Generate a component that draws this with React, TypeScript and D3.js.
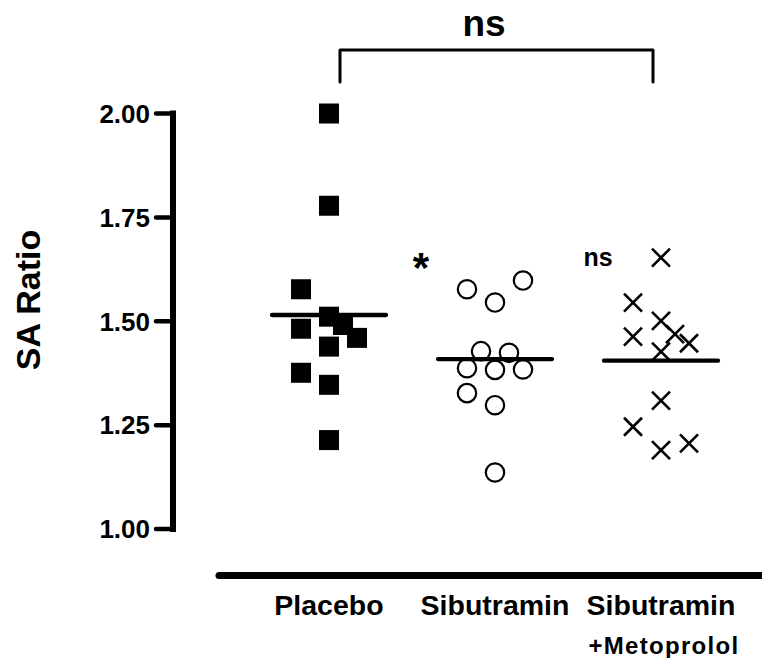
import React from "react";
import * as d3 from "d3";

const categories = ["Placebo", "Sibutramin", "Sibutramin+Metoprolol"];
const placeboValues = [2.0, 1.778, 1.577, 1.511, 1.491, 1.46, 1.482, 1.439, 1.376, 1.347, 1.214];
const placeboSlots = [0, 0, -2, 0, 1, 2, -2, 0, -2, 0, 0];
const sibutraminValues = [1.577, 1.598, 1.545, 1.428, 1.424, 1.387, 1.383, 1.384, 1.327, 1.298, 1.136];
const sibutraminSlots = [-2, 2, 0, -1, 1, -2, 0, 2, -2, 0, 0];
const comboValues = [1.653, 1.545, 1.501, 1.463, 1.469, 1.447, 1.427, 1.309, 1.246, 1.206, 1.19];
const comboSlots = [0, -2, 0, -2, 1, 2, 0, 0, -2, 2, 0];
const means = [1.515, 1.409, 1.405];
const yTicks = [1.0, 1.25, 1.5, 1.75, 2.0];

const W = 762;
const H = 658;
const FONT = "Arial, 'Liberation Sans', Helvetica, sans-serif";

export default function App() {
  const y = d3.scaleLinear().domain([1, 2]).range([529, 113.5]);
  const x = d3.scalePoint<string>().domain(categories).range([329, 661]);
  const slot = 14;
  const fmt = d3.format(".2f");
  const axisX = 173;

  const cx = (cat: string, s: number) => (x(cat) as number) + s * slot;

  return (
    <svg width={W} height={H} style={{ position: "absolute", left: 0, top: 0, background: "#fff" }} fontFamily={FONT}>
      {/* y axis */}
      <line x1={axisX} x2={axisX} y1={y(2)} y2={y(1)} stroke="#000" strokeWidth={6} strokeLinecap="square" />
      {yTicks.map((t) => (
        <g key={t}>
          <line x1={156} x2={axisX} y1={y(t)} y2={y(t)} stroke="#000" strokeWidth={4.5} strokeLinecap="round" />
          <text x={150} y={y(t)} dy="0.36em" textAnchor="end" fontSize={26} fontWeight="bold">
            {fmt(t)}
          </text>
        </g>
      ))}
      <text
        transform={`translate(40,300) rotate(-90)`}
        textAnchor="middle"
        fontSize={34}
        fontWeight="bold"
      >
        SA Ratio
      </text>

      {/* x axis */}
      <line x1={219} x2={W + 5} y1={575.5} y2={575.5} stroke="#000" strokeWidth={7} strokeLinecap="round" />
      <text x={x(categories[0])} y={615} textAnchor="middle" fontSize={28.5} fontWeight="bold">Placebo</text>
      <text x={x(categories[1])} y={615} textAnchor="middle" fontSize={28.5} fontWeight="bold">Sibutramin</text>
      <text x={x(categories[2])} y={615} textAnchor="middle" fontSize={28.5} fontWeight="bold">Sibutramin</text>
      <text x={(x(categories[2]) as number) + 3} y={654} textAnchor="middle" fontSize={24} fontWeight="bold" letterSpacing={1.3}>
        +Metoprolol
      </text>

      {/* Placebo squares */}
      {placeboValues.map((v, i) => (
        <rect key={"p" + i} x={cx(categories[0], placeboSlots[i]) - 10} y={y(v) - 10} width={20} height={20} fill="#000" />
      ))}
      {/* Sibutramin circles */}
      {sibutraminValues.map((v, i) => (
        <circle key={"s" + i} cx={cx(categories[1], sibutraminSlots[i])} cy={y(v)} r={9.2} fill="none" stroke="#000" strokeWidth={2.2} />
      ))}
      {/* Combo crosses */}
      {comboValues.map((v, i) => {
        const px = cx(categories[2], comboSlots[i]);
        const py = y(v);
        const a = 9;
        return (
          <g key={"c" + i} stroke="#000" strokeWidth={2.6}>
            <line x1={px - a} y1={py - a} x2={px + a} y2={py + a} />
            <line x1={px - a} y1={py + a} x2={px + a} y2={py - a} />
          </g>
        );
      })}

      {/* mean lines */}
      {means.map((m, i) => (
        <line key={"m" + i} x1={(x(categories[i]) as number) - 57} x2={(x(categories[i]) as number) + 57} y1={y(m)} y2={y(m)} stroke="#000" strokeWidth={4.3} strokeLinecap="round" />
      ))}

      {/* significance labels */}
      <text x={(x(categories[1]) as number) - 74} y={y(1.655) + 25} textAnchor="middle" fontSize={42} fontWeight="bold">*</text>
      <text x={(x(categories[2]) as number) - 63} y={y(1.655) + 9.5} textAnchor="middle" fontSize={25} fontWeight="bold">ns</text>

      {/* bracket */}
      <path
        d={`M${(x(categories[0]) as number) + 11},${y(2.076)} V${y(2.153)} H${(x(categories[2]) as number) - 8} V${y(2.076)}`}
        fill="none"
        stroke="#000"
        strokeWidth={3}
        strokeLinecap="round"
        strokeLinejoin="round"
      />
      <text x={484} y={36} textAnchor="middle" fontSize={37} fontWeight="bold">ns</text>
    </svg>
  );
}
